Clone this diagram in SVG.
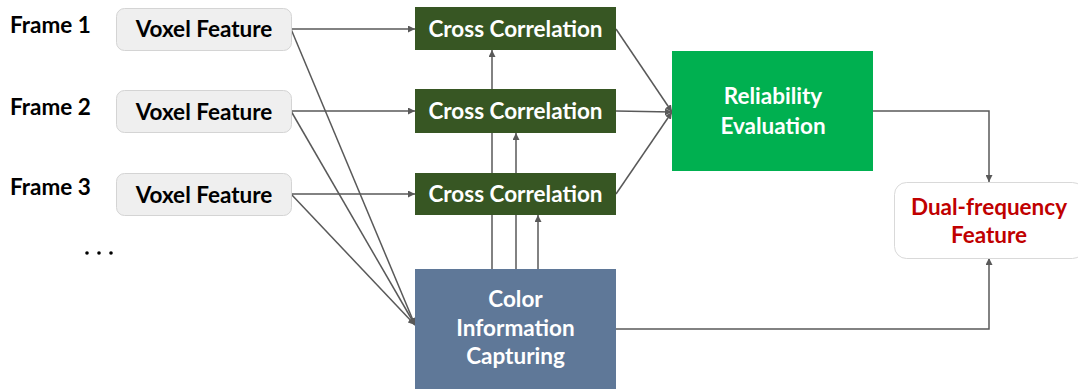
<svg xmlns="http://www.w3.org/2000/svg" width="1078" height="389" viewBox="0 0 1078 389">
<defs>
<style>
.t{font-family:Lato,"Liberation Sans",sans-serif;font-weight:bold;font-size:22.5px;text-anchor:middle}
.lbl{font-family:Lato,"Liberation Sans",sans-serif;font-weight:bold;font-size:22.5px;fill:#000}
.w{fill:#fff}
.k{fill:#000}
.vf{fill:#efefef;stroke:#d4d4d4;stroke-width:1}
.cc{fill:#375623}
.ln{fill:none;stroke:#595959;stroke-width:1.5}
</style>
<marker id="ar" viewBox="0 0 10 10" refX="10" refY="5" markerWidth="7" markerHeight="7" markerUnits="userSpaceOnUse" orient="auto">
<path d="M0,0 L10,5 L0,10 z" fill="#595959"/>
</marker>
</defs>
<rect width="1078" height="389" fill="#fff"/>
<g id="labels">
<text class="lbl" x="10" y="33">Frame 1</text>
<text class="lbl" x="10" y="115">Frame 2</text>
<text class="lbl" x="10" y="195">Frame 3</text>
<circle cx="87" cy="253" r="1.8" fill="#000"/>
<circle cx="99" cy="253" r="1.8" fill="#000"/>
<circle cx="111" cy="253" r="1.8" fill="#000"/>
</g>
<g id="connectors">
<path class="ln" d="M291,29 L415,29" marker-end="url(#ar)"/>
<path class="ln" d="M291,111 L415,111" marker-end="url(#ar)"/>
<path class="ln" d="M291,194 L415,194" marker-end="url(#ar)"/>
<path class="ln" d="M291,29 L415,325" marker-end="url(#ar)"/>
<path class="ln" d="M291,111 L415,325" marker-end="url(#ar)"/>
<path class="ln" d="M291,194 L415,325" marker-end="url(#ar)"/>
<path class="ln" d="M492,269 L492,50" marker-end="url(#ar)"/>
<path class="ln" d="M516,269 L516,133" marker-end="url(#ar)"/>
<path class="ln" d="M538,269 L538,215" marker-end="url(#ar)"/>
<path class="ln" d="M616,29 L672,112" marker-end="url(#ar)"/>
<path class="ln" d="M616,111 L672,112" marker-end="url(#ar)"/>
<path class="ln" d="M616,194 L672,112" marker-end="url(#ar)"/>
<path class="ln" d="M873,111 L989,111 L989,182" marker-end="url(#ar)"/>
<path class="ln" d="M616,329 L989,329 L989,258" marker-end="url(#ar)"/>
</g>
<g id="vf1"><rect class="vf" x="116.5" y="8.5" width="175" height="42" rx="8"/><text class="t k" x="204" y="37">Voxel Feature</text></g>
<g id="vf2"><rect class="vf" x="116.5" y="90.5" width="175" height="42" rx="8"/><text class="t k" x="204" y="119.5">Voxel Feature</text></g>
<g id="vf3"><rect class="vf" x="116.5" y="173.5" width="175" height="42" rx="8"/><text class="t k" x="204" y="202.5">Voxel Feature</text></g>
<g id="cc1"><rect class="cc" x="415" y="7" width="201" height="43"/><text class="t w" x="515.5" y="36.5">Cross Correlation</text></g>
<g id="cc2"><rect class="cc" x="415" y="89" width="201" height="44"/><text class="t w" x="515.5" y="119">Cross Correlation</text></g>
<g id="cc3"><rect class="cc" x="415" y="173" width="201" height="42"/><text class="t w" x="515.5" y="202">Cross Correlation</text></g>
<g id="color"><rect x="415" y="269" width="201" height="125" fill="#5f7898"/>
<text class="t w" x="515.5" y="307">Color</text>
<text class="t w" x="515.5" y="336">Information</text>
<text class="t w" x="515.5" y="364">Capturing</text></g>
<g id="reliability"><rect x="672" y="51" width="201" height="120" fill="#00b050"/>
<text class="t w" x="773" y="104">Reliability</text>
<text class="t w" x="773" y="134">Evaluation</text></g>
<g id="dual"><rect x="894.5" y="182.5" width="190" height="76" rx="12" fill="#fff" stroke="#d9d9d9" stroke-width="1"/>
<text class="t" fill="#c00000" x="989" y="215">Dual-frequency</text>
<text class="t" fill="#c00000" x="989" y="243">Feature</text></g>
</svg>
